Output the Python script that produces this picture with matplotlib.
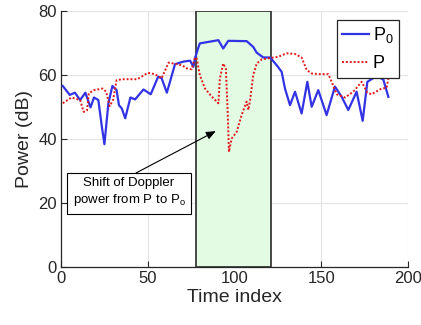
import matplotlib
matplotlib.use("Agg")
import matplotlib.pyplot as plt
from matplotlib.patches import Rectangle

plt.rcParams['font.family'] = ['Liberation Sans', 'DejaVu Sans']
plt.rcParams['mathtext.default'] = 'regular'

# P0 (blue, solid)
p0_x = [1, 5, 8, 11, 14, 17, 19, 21.5, 23.5, 25, 27.3, 29.6, 32, 33.4, 35, 37, 40, 42.7,
        47.5, 51.7, 56, 58, 61, 65.7, 70.5, 74.4, 76.3, 77.2, 78.8, 80, 90.7, 93.5, 96.4,
        107, 110.8, 112.8, 116.6, 120.5, 124.3, 127.2, 129.1, 132, 134.9, 138.7, 142,
        144.5, 148.3, 153.1, 157.9, 161.8, 165.6, 170.4, 173.9, 176.6, 181.9, 185.8, 188.7]
p0_y = [56.6, 53.8, 54.5, 52.2, 54.5, 49.9, 53, 52.2, 44, 38.4, 51.2, 56.6, 55.3, 50.6,
        49.6, 46.5, 53, 52.4, 55.5, 54, 59.5, 59, 54.5, 63.4, 64.2, 64.5, 62.6, 65.2, 68,
        69.9, 70.9, 68.3, 70.7, 70.6, 68.8, 67, 65.5, 65.5, 63.1, 61, 55.8, 50.6, 54.8,
        48, 57.9, 50.1, 55.3, 47.5, 56.4, 53.2, 49.1, 54.8, 45.7, 57.9, 59.7, 58.6, 53.2]

# P (red, dotted)
p_x = [1, 6, 11, 13, 15, 16, 19, 24, 26, 28, 30, 32, 35, 44, 50, 54, 58, 62, 67, 70,
       72.4, 75.3, 77.2, 78.2, 80, 83, 87, 90.7, 91.6, 93.5, 95, 96, 96.8, 98.4, 101.3,
       104.1, 107, 108, 109, 110.8, 112.8, 115.7, 121.4, 125.2, 130, 134.9, 138.7, 141.6,
       144.5, 148.3, 154.1, 156, 158.9, 163.7, 168.5, 173.3, 176.6, 179, 184.8, 187.7, 188.7]
p_y = [51.2, 53, 52.2, 48.5, 49, 54.3, 55.3, 55.8, 54.8, 50.3, 52.2, 58.4, 58.7, 58.7,
       60.7, 60.3, 59, 63.9, 63.4, 63, 62.1, 61.8, 65.5, 65.2, 60, 55.8, 53.2, 51.2, 59,
       63.6, 62.1, 49.6, 36, 40.2, 42.3, 47.5, 51.7, 49.1, 52.2, 60, 63.6, 64.9, 65.4,
       65.7, 66.8, 66.6, 65.5, 61.6, 60.5, 60.3, 60.3, 57.9, 54, 53, 54.8, 57.9, 54.5,
       54, 55.8, 56, 59]

region_x = [78, 121]
x_ticks = [0, 50, 100, 150, 200]
y_ticks = [0, 20, 40, 60, 80]

fig = plt.figure(figsize=(4.21, 3.25), dpi=100)
ax = fig.add_axes([0.145, 0.178, 0.824, 0.788])

ax.set_axisbelow(True)
ax.grid(True, color='#e3e3e3', lw=0.8)
ax.add_patch(Rectangle((region_x[0], 0), region_x[1] - region_x[0], 80,
                       facecolor='#e3fae3', edgecolor='#3a3a3a', lw=1.3, zorder=1.5))

ax.plot(p0_x, p0_y, color='#3333e6', lw=1.6, label='P$_0$', zorder=3)
ax.plot(p_x, p_y, color='#e01a1a', lw=1.4, ls=(0, (1, 1)), label='P', zorder=3)

ax.set_xlim(0, 200)
ax.set_ylim(0, 80)
ax.set_xticks(x_ticks)
ax.set_yticks(y_ticks)
ax.tick_params(direction='in', length=4, labelsize=12, colors='#262626', pad=3)
for s in ['top', 'right']:
    ax.spines[s].set_visible(False)
for s in ['left', 'bottom']:
    ax.spines[s].set_color('#262626')
    ax.spines[s].set_linewidth(0.9)

ax.set_xlabel('Time index', fontsize=14, color='#262626', labelpad=2)
ax.set_ylabel('Power (dB)', fontsize=14, color='#262626', labelpad=4)

leg = ax.legend(loc='upper right', bbox_to_anchor=(0.974, 0.965), borderaxespad=0,
                fontsize=13, handlelength=1.5, handletextpad=0.2, borderpad=0.3,
                labelspacing=0.55, fancybox=False, framealpha=1, edgecolor='#262626')
leg.get_frame().set_linewidth(0.9)

ax.annotate('Shift of Doppler\npower from P to P$_{o}$', xy=(89.2, 42.5),
            xytext=(39.2, 23.3), textcoords='data', ha='center', va='center',
            fontsize=9.5, color='black', zorder=5, linespacing=1.35,
            bbox=dict(boxstyle='square,pad=0.4', fc='white', ec='black', lw=0.8),
            arrowprops=dict(arrowstyle='-|>,head_length=0.6,head_width=0.25',
                            color='black', lw=0.8, relpos=(0.5, 1.0),
                            shrinkA=0, shrinkB=0))

fig.savefig('out.png', dpi=100)
